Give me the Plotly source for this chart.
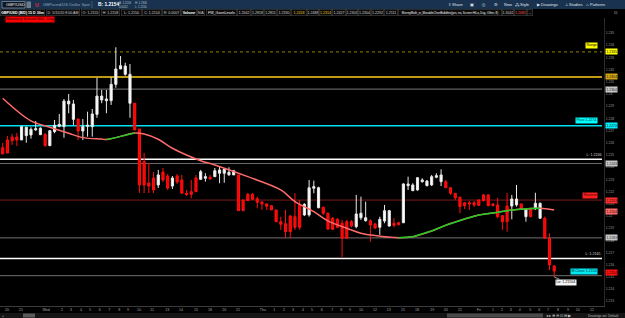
import plotly.graph_objects as go

# ---------------- data ----------------
bar_index = list(range(118))
opens = [1.22560, 1.22623, 1.22647, 1.22647, 1.22623, 1.22658, 1.22664, 1.22705, 1.22666, 1.22669,
         1.22576, 1.22691, 1.22735, 1.22732, 1.22918, 1.22792, 1.22795, 1.22696, 1.22735, 1.22732,
         1.22833, 1.22951, 1.22945, 1.22945, 1.23079, 1.23205, 1.23161, 1.22924, 1.22924, 1.22713,
         1.22445, 1.22270, 1.22311, 1.22254, 1.22360, 1.22327, 1.22245, 1.22327, 1.22295, 1.22186,
         1.22199, 1.22311, 1.22300, 1.22309, 1.22317, 1.22322, 1.22350, 1.22350, 1.22338, 1.22336,
         1.22336, 1.22131, 1.22177, 1.22177, 1.22141, 1.22114, 1.22098, 1.22084, 1.22049, 1.21953,
         1.21936, 1.21999, 1.21994, 1.22090, 1.22008, 1.22008, 1.22227, 1.22067, 1.22071, 1.22022,
         1.21981, 1.21972, 1.21940, 1.21953, 1.21953, 1.21912, 1.21985, 1.21961, 1.21961, 1.21934,
         1.21907, 1.21958, 1.21917, 1.21940, 1.21944, 1.21944, 1.22248, 1.22207, 1.22213, 1.22281,
         1.22248, 1.22254, 1.22317, 1.22281, 1.22281, 1.22231, 1.22186, 1.22153, 1.22108, 1.22108,
         1.22108, 1.22131, 1.22172, 1.22172, 1.22098, 1.22090, 1.22002, 1.22081, 1.22081, 1.22090,
         1.22098, 1.21994, 1.22057, 1.22059, 1.21981, 1.21981, 1.21817, 1.21589]
highs = [1.22598, 1.22655, 1.22672, 1.22680, 1.22737, 1.22732, 1.22727, 1.22778, 1.22727, 1.22678,
         1.22699, 1.22787, 1.22836, 1.22959, 1.23000, 1.22951, 1.22795, 1.22795, 1.22855, 1.22877,
         1.23133, 1.23033, 1.23033, 1.23137, 1.23383, 1.23311, 1.23256, 1.23246, 1.22926, 1.22713,
         1.22516, 1.22434, 1.22360, 1.22377, 1.22393, 1.22344, 1.22327, 1.22344, 1.22336, 1.22213,
         1.22295, 1.22336, 1.22377, 1.22350, 1.22336, 1.22393, 1.22404, 1.22391, 1.22399, 1.22377,
         1.22336, 1.22131, 1.22188, 1.22188, 1.22158, 1.22122, 1.22104, 1.22090, 1.22049, 1.21994,
         1.22049, 1.22008, 1.22186, 1.22131, 1.22104, 1.22295, 1.22289, 1.22240, 1.22076, 1.22027,
         1.21991, 1.21983, 1.21967, 1.21967, 1.21967, 1.22172, 1.22158, 1.22117, 1.21972, 1.21942,
         1.21994, 1.22090, 1.22049, 1.21981, 1.21953, 1.22268, 1.22322, 1.22268, 1.22319, 1.22309,
         1.22295, 1.22336, 1.22350, 1.22382, 1.22295, 1.22237, 1.22188, 1.22158, 1.22114, 1.22122,
         1.22122, 1.22136, 1.22180, 1.22177, 1.22106, 1.22149, 1.22008, 1.22186, 1.22172, 1.22254,
         1.22104, 1.22063, 1.22065, 1.22190, 1.22108, 1.21994, 1.21858, 1.21598]
lows = [1.22508, 1.22516, 1.22582, 1.22573, 1.22623, 1.22600, 1.22633, 1.22699, 1.22664, 1.22568,
        1.22576, 1.22678, 1.22727, 1.22641, 1.22842, 1.22746, 1.22623, 1.22623, 1.22650, 1.22650,
        1.22805, 1.22924, 1.22842, 1.22910, 1.23051, 1.23205, 1.23150, 1.22805, 1.22705, 1.22188,
        1.22188, 1.22188, 1.22188, 1.22229, 1.22278, 1.22213, 1.22221, 1.22262, 1.22180, 1.22163,
        1.22145, 1.22196, 1.22295, 1.22281, 1.22295, 1.22319, 1.22268, 1.22272, 1.22327, 1.22336,
        1.22043, 1.22043, 1.22122, 1.22131, 1.22063, 1.22049, 1.22049, 1.22049, 1.21953, 1.21885,
        1.21817, 1.21817, 1.21885, 1.21885, 1.21999, 1.21994, 1.22186, 1.22063, 1.22008, 1.21885,
        1.21885, 1.21901, 1.21661, 1.21811, 1.21907, 1.21899, 1.21967, 1.21953, 1.21789, 1.21893,
        1.21844, 1.21940, 1.21912, 1.21907, 1.21923, 1.21942, 1.22213, 1.22204, 1.22207, 1.22272,
        1.22243, 1.22245, 1.22309, 1.22245, 1.22229, 1.22172, 1.22131, 1.22022, 1.22057, 1.22049,
        1.22073, 1.22081, 1.22117, 1.22079, 1.22079, 1.21981, 1.21885, 1.21871, 1.21972, 1.22076,
        1.22049, 1.21953, 1.21989, 1.22049, 1.21977, 1.21817, 1.21557, 1.21499]
closes = [1.22508, 1.22516, 1.22617, 1.22623, 1.22732, 1.22727, 1.22710, 1.22715, 1.22719, 1.22576,
          1.22699, 1.22743, 1.22751, 1.22942, 1.22942, 1.22918, 1.22696, 1.22732, 1.22743, 1.22836,
          1.22983, 1.22983, 1.22959, 1.23079, 1.23205, 1.23232, 1.23229, 1.23161, 1.22705, 1.22254,
          1.22254, 1.22245, 1.22213, 1.22336, 1.22295, 1.22229, 1.22311, 1.22278, 1.22186, 1.22177,
          1.22177, 1.22199, 1.22363, 1.22322, 1.22303, 1.22371, 1.22377, 1.22382, 1.22358, 1.22371,
          1.22043, 1.22043, 1.22125, 1.22136, 1.22112, 1.22098, 1.22079, 1.22049, 1.21953, 1.21931,
          1.21871, 1.21871, 1.21907, 1.21907, 1.22095, 1.22231, 1.22240, 1.22231, 1.22022, 1.21893,
          1.21890, 1.21907, 1.21817, 1.21817, 1.21917, 1.22016, 1.22022, 1.21985, 1.21926, 1.21901,
          1.21972, 1.22043, 1.22043, 1.21923, 1.21928, 1.22262, 1.22262, 1.22254, 1.22313, 1.22295,
          1.22286, 1.22322, 1.22330, 1.22336, 1.22231, 1.22186, 1.22149, 1.22076, 1.22084, 1.22098,
          1.22090, 1.22087, 1.22125, 1.22084, 1.22084, 1.21994, 1.21953, 1.21953, 1.22139, 1.22139,
          1.22057, 1.22054, 1.21994, 1.22104, 1.22104, 1.21817, 1.21598, 1.21548]

# moving average read at selected bars
ma_bar = [0, 6, 10, 14, 17, 21, 22, 24, 28, 30, 33, 36, 42, 45, 52, 59, 62, 66, 69, 73,
          76, 80, 84, 87, 91, 94, 98, 101, 105, 108, 112, 114, 117]
ma_val = [1.22965, 1.22779, 1.22727, 1.22678, 1.22642, 1.22630, 1.22626, 1.22642, 1.22680, 1.22672,
          1.22629, 1.22555, 1.22453, 1.22418, 1.22322, 1.22213, 1.22117, 1.22035, 1.21959, 1.21899,
          1.21858, 1.21834, 1.21822, 1.21830, 1.21877, 1.21924, 1.21975, 1.22008, 1.22030, 1.22049,
          1.22060, 1.22063, 1.22049]

# horizontal study levels
level_prices = [1.23345, 1.2314, 1.2304, 1.2274, 1.22465, 1.2243, 1.2213, 1.2182, 1.2165, 1.2151]
level_colors = ["#8c8400", "#c09a10", "#777777", "#00e0f0", "#ffffff", "#6a6a6a", "#7a1c1c",
                "#707070", "#ffffff", "#707070"]
level_widths = [1, 2, 1, 1.5, 1.5, 1, 1, 1, 1.5, 1]
level_dash = ["dot", "solid", "solid", "solid", "solid", "solid", "solid", "solid", "solid", "solid"]

# axis tick labels
price_ticks = [1.235, 1.234, 1.233, 1.232, 1.231, 1.230, 1.229, 1.228, 1.227, 1.226, 1.225, 1.224,
               1.223, 1.222, 1.221, 1.220, 1.219, 1.218, 1.217, 1.216, 1.215, 1.214, 1.213]
price_tick_text = ["1.235", "1.234", "1.233", "1.232", "1.231", "1.23", "1.229", "1.228", "1.227",
                   "1.226", "1.225", "1.224", "1.223", "1.222", "1.221", "1.22", "1.219", "1.218",
                   "1.217", "1.216", "1.215", "1.214", "1.213"]
time_tick_pos = [0.9, 3.9, 9.2, 12.6, 14.5, 16.6, 18.5, 20.6, 22.6, 24.7, 26.6, 28.9, 31.7, 34.9,
                 37.8, 41.0, 44.0, 47.0, 49.9, 55.2, 57.6, 59.7, 61.6, 63.7, 65.6, 67.7, 69.9, 71.8,
                 73.7, 76.0, 79.0, 81.9, 84.9, 87.9, 91.1, 94.0, 97.0, 101.0, 104.0, 105.9, 107.8,
                 109.7, 111.9, 113.8, 115.7, 117.8, 119.9, 122.0, 125.0]
time_tick_text = ["20", "21", "Wed", "2", "3", "4", "5", "6", "7", "8", "9", "10", "11", "13",
                  "14", "15", "18", "20", "21", "Thu", "1", "2", "3", "4", "5", "6", "7", "8",
                  "9", "10", "12", "13", "15", "18", "19", "20", "21", "Fri", "1", "2", "3",
                  "4", "5", "6", "7", "8", "9", "10", "12"]

# ---------------- figure ----------------
W, H = 625, 318
ML, MR, MT, MB = 0, 21, 18, 12
PW = W - ML - MR
PH = H - MT - MB


def px(x):
    return (x - ML) / PW


def py(y):
    return (H - MB - y) / PH


FONT = "Liberation Sans"

fig = go.Figure()

fig.add_trace(go.Candlestick(
    x=bar_index, open=opens, high=highs, low=lows, close=closes,
    increasing=dict(line=dict(color="#e8e8e8", width=1), fillcolor="#ffffff"),
    decreasing=dict(line=dict(color="#ff1010", width=1), fillcolor="#ff0000"),
    whiskerwidth=0, hoverinfo="skip", showlegend=False))

# moving average, pink where falling and green where rising
pink_x, pink_y, green_x, green_y = [], [], [], []
for k in range(len(ma_bar) - 1):
    seg_x = [ma_bar[k], ma_bar[k + 1], None]
    seg_y = [ma_val[k], ma_val[k + 1], None]
    if ma_val[k + 1] > ma_val[k]:
        green_x += seg_x
        green_y += seg_y
    else:
        pink_x += seg_x
        pink_y += seg_y
fig.add_trace(go.Scatter(x=ma_bar, y=ma_val, mode="lines", line=dict(color="#ff6b6b", width=1.5, shape="spline"),
                         hoverinfo="skip", showlegend=False))
fig.add_trace(go.Scatter(x=green_x, y=green_y, mode="lines", line=dict(color="#22cc22", width=1.5),
                         connectgaps=False, hoverinfo="skip", showlegend=False))

shapes = []
for p, c, w, d in zip(level_prices, level_colors, level_widths, level_dash):
    shapes.append(dict(type="line", xref="paper", yref="y", x0=0, x1=px(602), y0=p, y1=p,
                       line=dict(color=c, width=w, dash=d), layer="below"))

# header bars
shapes.append(dict(type="rect", xref="paper", yref="paper", x0=px(0), x1=px(625), y0=py(9), y1=py(0),
                   fillcolor="#18324f", line=dict(width=0), layer="above"))
shapes.append(dict(type="rect", xref="paper", yref="paper", x0=px(2), x1=px(25), y0=py(8), y1=py(1.5),
                   fillcolor="#0d1622", line=dict(color="#9fb0c0", width=0.6), layer="above"))
shapes.append(dict(type="rect", xref="paper", yref="paper", x0=px(26.5), x1=px(31), y0=py(8), y1=py(1.5),
                   fillcolor="#6c7c8c", line=dict(width=0), layer="above"))
shapes.append(dict(type="line", xref="paper", yref="paper", x0=px(92), x1=px(92), y0=py(8), y1=py(1),
                   line=dict(color="#5a7088", width=0.6), layer="above"))
# bottom bar
shapes.append(dict(type="rect", xref="paper", yref="paper", x0=px(0), x1=px(625), y0=py(318), y1=py(313),
                   fillcolor="#151515", line=dict(width=0), layer="above"))
shapes.append(dict(type="rect", xref="paper", yref="paper", x0=px(23), x1=px(35), y0=py(317.5), y1=py(313.5),
                   fillcolor="#5a5a5a", line=dict(width=0), layer="above"))
shapes.append(dict(type="rect", xref="paper", yref="paper", x0=px(447), x1=px(543), y0=py(317.5), y1=py(313.5),
                   fillcolor="#4a4a4a", line=dict(width=0), layer="above"))

annotations = []


def header_text(text, x, y, size, color, bold=False, anchor="left"):
    t = "<b>%s</b>" % text if bold else text
    annotations.append(dict(text=t, xref="paper", yref="paper", x=px(x), y=py(y), xanchor=anchor,
                            yanchor="middle", showarrow=False,
                            font=dict(family=FONT, size=size, color=color)))


def boxed(text, x0, x1, y, size, color="#cfcfcf", bold=False):
    t = "<b>%s</b>" % text if bold else text
    annotations.append(dict(text=t, xref="paper", yref="paper", x=px((x0 + x1) / 2), y=py(y),
                            xanchor="center", yanchor="middle", showarrow=False, width=x1 - x0 - 1,
                            height=6, bgcolor="#0b0b0b", bordercolor="#4a4a4a", borderwidth=0.5,
                            borderpad=0, font=dict(family=FONT, size=size, color=color)))


# header row 1
header_text("GBP/USD", 3.5, 4.8, 4.2, "#e6e6e6")
header_text("U", 33, 4.8, 5, "#ff2a2a", bold=True)
header_text("GBPound/US Dollar Spot", 41, 4.8, 4.2, "#8fa3b5")
header_text("B: 1.2154", 96, 4.8, 4.8, "#ffffff", bold=True)
header_text("A: 1.2156", 117, 3.2, 2.8, "#b8c4d0")
header_text("0.0012", 117, 6.8, 2.8, "#b8c4d0")
header_text("H: 1.2345", 133, 3.2, 2.8, "#b8c4d0")
header_text("L: 1.2150", 133, 6.8, 2.8, "#b8c4d0")
header_text("⇪ Share", 446, 4.8, 4, "#e0e6ee")
header_text("▣", 468, 4.8, 4, "#e0e6ee")
header_text("⎙", 480, 4.8, 4, "#e0e6ee")
header_text("⚙", 492, 4.8, 4, "#e0e6ee")
header_text("New", 502, 4.8, 4, "#e0e6ee")
header_text("⁂ Style", 513, 4.8, 4, "#e0e6ee")
header_text("▶ Drawings", 535, 4.8, 4, "#e0e6ee")
header_text("⊥ Studies", 563, 4.8, 4, "#e0e6ee")
header_text("⛬ Patterns", 584, 4.8, 4, "#e0e6ee")
header_text("⊡", 612, 12.5, 4, "#bdbdbd")

# header row 2 (study values)
row2 = [("GBP/USD (BID) 15 D 30m", 0, 45, "#ffffff", True),
        ("D: 5/15/20 8:00 AM", 46, 80, "#cfcfcf", False),
        ("O: 1.2155", 81, 100, "#cfcfcf", False),
        ("H: 1.2158", 101, 120, "#cfcfcf", False),
        ("L: 1.2150", 121, 142, "#cfcfcf", False),
        ("C: 1.2154", 142, 162, "#cfcfcf", False),
        ("R: 0.0007", 162, 181, "#cfcfcf", False),
        ("Volume", 181, 197, "#ffffff", True),
        ("N/A", 197, 205, "#cfcfcf", False),
        ("FW_GannLevels", 206, 237, "#ffffff", False),
        ("1.2642", 237, 251, "#cfcfcf", False),
        ("1.2818", 251, 264, "#cfcfcf", False),
        ("1.2811", 264, 277, "#cfcfcf", False),
        ("1.2330", 277, 291, "#cfcfcf", False),
        ("1.2418", 291, 307, "#e8c21a", False),
        ("1.2488", 307, 319, "#cfcfcf", False),
        ("1.2314", 319, 332, "#e8c21a", False),
        ("1.2427", 332, 346, "#cfcfcf", False),
        ("1.2303", 346, 358, "#cfcfcf", False),
        ("1.2304", 358, 371, "#cfcfcf", False),
        ("1.2292", 371, 384, "#cfcfcf", False),
        ("1.2111", 384, 398, "#cfcfcf", False),
        ("MurreyMath_w_MovableChartBubbles(yes, no, Screen HiLo, Day, Other, 8)", 398, 502, "#ffffff", False),
        ("1.3042", 502, 514, "#cfcfcf", False),
        ("1.2081", 514, 527, "#ff4a4a", False),
        ("...", 527, 533, "#cfcfcf", False)]
for text, x0, x1, col, b in row2:
    size = 2.9 if len(text) > 40 else 3.6
    boxed(text, x0, x1, 13, size, col, b)

# study label
annotations.append(dict(text="Monetary Scream Mid - Day", xref="paper", yref="paper", x=px(5), y=py(20),
                        xanchor="left", yanchor="middle", showarrow=False, bgcolor="#ff0000",
                        borderpad=0.3, font=dict(family=FONT, size=3.8, color="#200000")))
header_text("◔", 0.5, 20, 3.5, "#777777")

# in-chart bubbles
def bubble(text, xr, price, bg, fg, size=3.6):
    annotations.append(dict(text=text, xref="paper", yref="y", x=px(xr), y=price, xanchor="right",
                            yanchor="middle", showarrow=False, bgcolor=bg, borderpad=0.4,
                            font=dict(family=FONT, size=size, color=fg)))


bubble("Range", 598, level_prices[0] + 0.00055, "#ffff00", "#000000")
bubble("Pivot 1.2274", 598, level_prices[3] + 0.00045, "#00ffff", "#003033")
bubble("L: 1.2246", 603, level_prices[4] + 0.00028, "rgba(0,0,0,0)", "#d8d8d8")
bubble("Reverse", 598, level_prices[6] + 0.0004, "#ff2020", "#300000")
bubble("L: 1.2165", 602, level_prices[8] + 0.0003, "rgba(0,0,0,0)", "#d8d8d8")
bubble("M-Close 1.2154", 598, closes[-1], "#00e8f0", "#003033")
annotations.append(dict(text="Lo: 1.21504", xref="x", yref="y", x=bar_index[-1], y=lows[-1],
                        ax=bar_index[-1] + 2.6, ay=lows[-1] - 0.00042, axref="x", ayref="y",
                        xanchor="center", yanchor="middle", showarrow=True, arrowhead=0,
                        arrowcolor="#ffffff", arrowwidth=0.6, bgcolor="#f4f4f4", borderpad=0.3,
                        font=dict(family=FONT, size=3.6, color="#000000")))

# right-axis price tags
tags = [(1.23345, "1.2335", "#ffff00", "#000000"),
        (1.2314, "1.2314", "#d4a514", "#000000"),
        (1.2304, "1.2304", "#c8c8c8", "#202020"),
        (1.2274, "1.2274", "#00f0ff", "#000000"),
        (1.2243, "1.2243", "#c8c8c8", "#202020"),
        (1.2213, "1.2213", "#ff3030", "#200000"),
        (1.2204, "1.2204", "#ff6a6a", "#200000"),
        (1.2182, "1.2183", "#c8c8c8", "#202020"),
        (1.2154, "1.2154", "#ff1010", "#200000")]
for p, t, bg, fg in tags:
    annotations.append(dict(text=t, xref="paper", yref="y", x=px(605), y=p, xanchor="left",
                            yanchor="middle", showarrow=False, bgcolor=bg, borderpad=0.5,
                            font=dict(family=FONT, size=3.4, color=fg)))

# bottom bar texts
header_text("◂ ▸ ⊕ ⊖ ⊡ ⊞ ▶", 544, 315.7, 3.6, "#cfcfcf")
header_text("Drawings set: Default", 586, 315.7, 3.2, "#bdbdbd")
header_text("◂", 0, 315.7, 3, "#999999")

fig.update_layout(
    width=W, height=H, margin=dict(l=ML, r=MR, t=MT, b=MB),
    paper_bgcolor="#000000", plot_bgcolor="#000000",
    shapes=shapes, annotations=annotations, showlegend=False,
    boxgap=0.35,
    xaxis=dict(range=[-0.573, 127.56], rangeslider=dict(visible=False), showgrid=False, zeroline=False,
               tickmode="array", tickvals=time_tick_pos, ticktext=time_tick_text, ticks="",
               tickfont=dict(family=FONT, size=3.6, color="#a8a8a8"), showline=True,
               linecolor="#3c3c3c", linewidth=1),
    yaxis=dict(range=[1.212614, 1.236230], side="right", showgrid=False, zeroline=False,
               tickmode="array", tickvals=price_ticks, ticktext=price_tick_text, ticks="",
               tickfont=dict(family=FONT, size=3.4, color="#9a9a9a"), showline=True,
               linecolor="#2a2a2a", linewidth=1),
)

fig.write_html("out.html")
